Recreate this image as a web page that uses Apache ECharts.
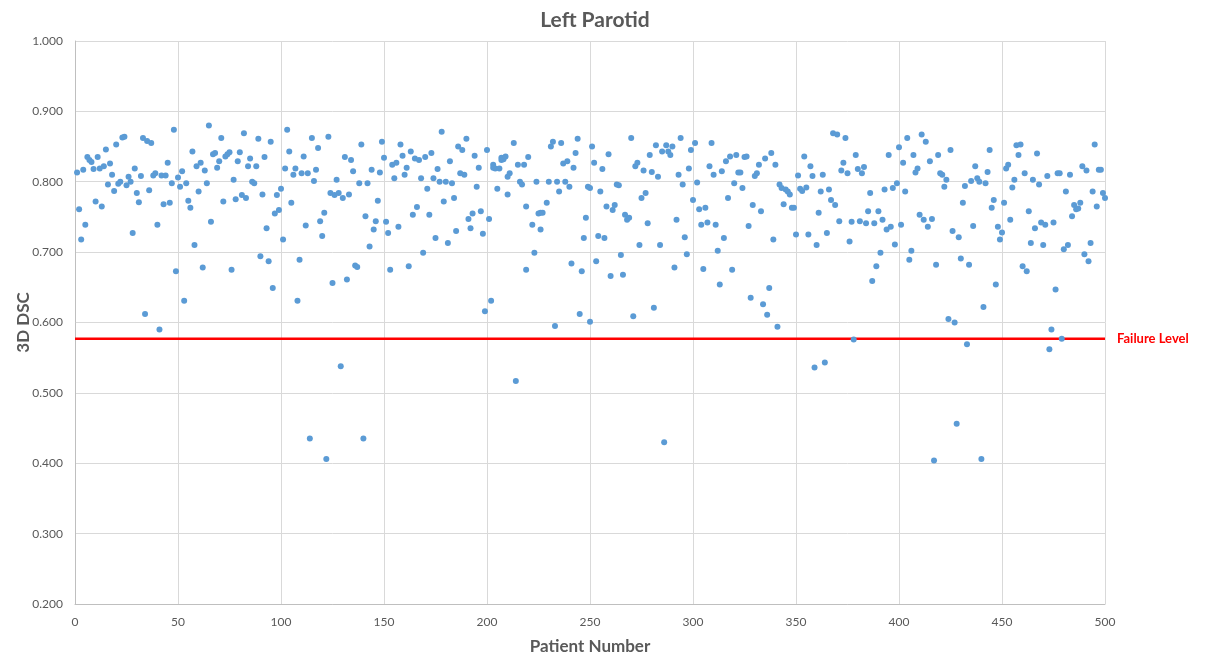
<!DOCTYPE html>
<html>
<head>
<meta charset="utf-8">
<title>Left Parotid</title>
<script src="https://cdn.jsdelivr.net/npm/echarts@6/dist/echarts.min.js"></script>
<style>
  html, body { margin: 0; padding: 0; background: #ffffff; }
  #chart { width: 1217px; height: 661px; }
</style>
</head>
<body>
<div id="chart"></div>
<script>
// Patient numbers (x) and their 3D Dice similarity coefficients (y)
const patientNumber = [
  1,2,3,4,5,6,7,8,9,10,11,12,13,14,15,16,17,18,19,20,21,22,23,24,25,26,27,28,29,30,31,32,33,34,35,36,37,38,39,40,41,42,43,44,45,46,47,48,49,50,51,
  52,53,54,55,56,57,58,59,60,61,62,63,64,65,66,67,68,69,70,71,72,73,74,75,76,77,78,79,80,81,82,83,84,85,86,87,88,89,90,91,92,93,94,95,96,97,98,99,100,101,102,
  103,104,105,106,107,108,109,110,111,112,113,114,115,116,117,118,119,120,121,122,123,124,125,126,127,128,129,130,131,132,133,134,135,136,137,138,139,140,141,142,143,144,145,146,147,148,149,150,151,152,
  153,154,155,156,157,158,159,160,161,162,163,164,165,166,167,168,169,170,171,172,173,174,175,176,177,178,179,180,181,182,183,184,185,186,187,188,189,190,191,192,193,194,195,196,197,198,199,200,201,202,203,
  203,204,205,206,207,207,208,209,210,210,211,213,214,215,216,217,218,219,219,220,222,223,224,225,226,226,227,229,230,231,232,233,234,235,236,237,238,239,240,241,242,243,244,245,246,247,248,249,250,250,251,252,
  253,254,255,256,257,258,259,260,261,262,263,264,265,266,267,268,269,270,271,272,273,274,275,276,277,278,279,280,281,282,283,284,285,286,287,288,289,290,291,292,293,294,295,296,297,298,299,300,301,302,
  303,304,305,306,307,308,309,310,311,312,313,314,315,316,317,318,319,320,321,322,323,324,325,326,327,328,329,330,331,332,333,334,335,336,337,338,339,340,341,342,343,344,345,346,347,348,349,350,351,352,
  353,354,355,356,357,358,359,360,361,362,363,364,365,366,367,368,369,370,371,372,373,374,375,376,377,378,379,380,381,382,383,384,385,386,387,388,389,390,391,392,393,394,395,396,397,398,399,400,401,
  402,403,404,405,406,407,408,409,410,411,412,413,414,415,416,417,418,419,420,421,422,423,424,425,426,427,428,429,430,431,432,433,434,435,436,437,438,439,440,441,442,443,444,445,446,447,448,449,450,451,452,
  453,454,455,456,457,458,459,460,461,462,463,464,465,466,467,468,469,470,471,472,473,474,475,476,477,478,479,480,481,482,483,484,485,486,487,488,489,490,491,492,493,494,495,496,497,498,499,500
];

const dsc3D = [
  .813,.761,.718,.817,.739,.835,.831,.828,.818,.772,.835,.819,.765,.822,.846,.796,.826,.810,.787,.853,.797,.800,.863,.864,.795,.807,.800,.727,.819,.784,.771,.808,.862,.612,.858,.788,.855,.809,.812,.739,.590,.809,.768,.809,.827,.770,.798,.874,.673,.806,.793,
  .815,.631,.798,.773,.763,.843,.710,.822,.786,.827,.678,.816,.798,.880,.743,.839,.841,.820,.829,.862,.772,.836,.839,.842,.675,.803,.775,.829,.842,.781,.869,.777,.822,.833,.800,.798,.822,.861,.694,.782,.835,.734,.687,.857,.649,.755,.781,.760,.790,.718,.819,
  .874,.843,.770,.810,.819,.631,.689,.812,.836,.738,.812,.435,.862,.801,.817,.848,.744,.723,.756,.406,.864,.784,.656,.781,.803,.784,.538,.777,.835,.661,.782,.831,.815,.681,.679,.798,.853,.435,.751,.798,.708,.817,.732,.744,.773,.813,.857,.834,.743,.727,
  .675,.824,.805,.827,.736,.853,.837,.810,.820,.680,.843,.753,.833,.764,.831,.805,.699,.835,.790,.753,.841,.805,.720,.818,.800,.871,.772,.800,.713,.829,.798,.777,.730,.850,.812,.845,.810,.861,.747,.734,.755,.837,.793,.820,.758,.726,.616,.845,.747,.631,.824,
  .820,.819,.790,.819,.834,.831,.832,.836,.782,.807,.812,.855,.517,.824,.800,.796,.824,.675,.765,.835,.739,.699,.800,.755,.732,.756,.756,.770,.800,.850,.857,.595,.800,.786,.855,.826,.800,.829,.793,.684,.820,.841,.861,.612,.673,.720,.749,.793,.601,.791,.850,.827,
  .687,.723,.786,.818,.720,.765,.839,.666,.760,.767,.796,.795,.696,.668,.753,.746,.749,.862,.609,.822,.827,.710,.777,.816,.784,.741,.838,.814,.621,.852,.807,.710,.843,.430,.852,.843,.838,.850,.678,.746,.810,.862,.796,.721,.697,.819,.845,.774,.855,.799,
  .761,.739,.676,.763,.742,.822,.855,.810,.739,.702,.654,.815,.720,.829,.777,.836,.675,.798,.838,.813,.813,.791,.835,.836,.737,.635,.767,.808,.812,.824,.758,.626,.833,.611,.649,.841,.718,.824,.594,.796,.791,.768,.789,.786,.782,.763,.763,.725,.809,.790,
  .787,.836,.792,.725,.822,.808,.536,.710,.756,.786,.810,.543,.727,.789,.774,.869,.767,.867,.744,.816,.827,.862,.812,.715,.743,.576,.838,.818,.744,.812,.821,.741,.758,.784,.659,.741,.680,.758,.699,.746,.789,.732,.838,.736,.791,.711,.798,.849,.739,
  .827,.786,.862,.689,.702,.838,.813,.819,.753,.867,.746,.857,.736,.829,.747,.404,.682,.838,.812,.810,.793,.803,.605,.845,.730,.600,.456,.721,.691,.770,.794,.569,.682,.801,.737,.822,.805,.800,.406,.622,.798,.814,.845,.763,.774,.654,.736,.718,.728,.770,.819,
  .824,.746,.792,.803,.852,.838,.853,.680,.812,.673,.758,.713,.803,.734,.840,.796,.742,.710,.739,.808,.562,.590,.742,.647,.812,.812,.577,.704,.786,.710,.810,.751,.767,.761,.762,.770,.822,.697,.816,.687,.713,.786,.853,.765,.817,.817,.784,.777
];

// Threshold drawn across the full patient range
const failureLevel = 0.577;
const failureRange = [0, 500];
const failureLabel = 'Failure Level';
const chartTitle = 'Left Parotid';
const xAxisName = 'Patient Number';
const yAxisName = '3D DSC';

const points = patientNumber.map((p, i) => [p, dsc3D[i]]);
const failureLine = failureRange.map(p => [p, failureLevel]);

const textGray = '#595959';
const gridGray = '#d9d9d9';
const fontFamily = 'Lato, "Open Sans", sans-serif';

const chart = echarts.init(document.getElementById('chart'), null, { renderer: 'canvas' });

chart.setOption({
  animation: false,
  backgroundColor: '#ffffff',
  title: {
    text: chartTitle,
    left: 590,
    textAlign: 'center',
    top: 5,
    textStyle: { color: textGray, fontSize: 21, fontWeight: 'bold', fontFamily }
  },
  grid: { left: 75, right: 112, top: 41, bottom: 57, containLabel: false, outerBoundsMode: 'none' },
  xAxis: {
    type: 'value',
    min: 0, max: 500, interval: 50,
    name: xAxisName,
    nameLocation: 'middle',
    nameGap: 34,
    nameMoveOverlap: false,
    nameTextStyle: { color: textGray, fontSize: 17, fontWeight: 'bold', fontFamily },
    axisLine: { show: true, lineStyle: { color: '#bfbfbf', width: 1 } },
    axisTick: { show: false },
    axisLabel: { color: textGray, fontSize: 12, margin: 12, fontFamily },
    splitLine: { show: true, lineStyle: { color: gridGray, width: 1 } }
  },
  yAxis: {
    type: 'value',
    min: 0.2, max: 1.0, interval: 0.1,
    name: yAxisName,
    nameLocation: 'middle',
    nameGap: 43,
    nameMoveOverlap: false,
    nameTextStyle: { color: textGray, fontSize: 17, fontWeight: 'bold', fontFamily },
    axisLine: { show: true, lineStyle: { color: '#bfbfbf', width: 1 } },
    axisTick: { show: false },
    axisLabel: {
      color: textGray, fontSize: 12, margin: 12, fontFamily,
      formatter: v => v.toFixed(3)
    },
    splitLine: { show: true, lineStyle: { color: gridGray, width: 1 } }
  },
  series: [
    {
      name: failureLabel,
      type: 'line',
      data: failureLine,
      showSymbol: false,
      silent: true,
      z: 1,
      lineStyle: { color: '#ff0000', width: 2.5 },
      endLabel: {
        show: true,
        distance: 12,
        formatter: failureLabel,
        color: '#ff0000',
        fontSize: 13,
        fontWeight: 'bold',
        fontFamily
      }
    },
    {
      name: yAxisName,
      type: 'scatter',
      data: points,
      symbol: 'circle',
      symbolSize: 6,
      z: 2,
      itemStyle: { color: '#5b9bd5', opacity: 1 }
    }
  ]
});
</script>
</body>
</html>
